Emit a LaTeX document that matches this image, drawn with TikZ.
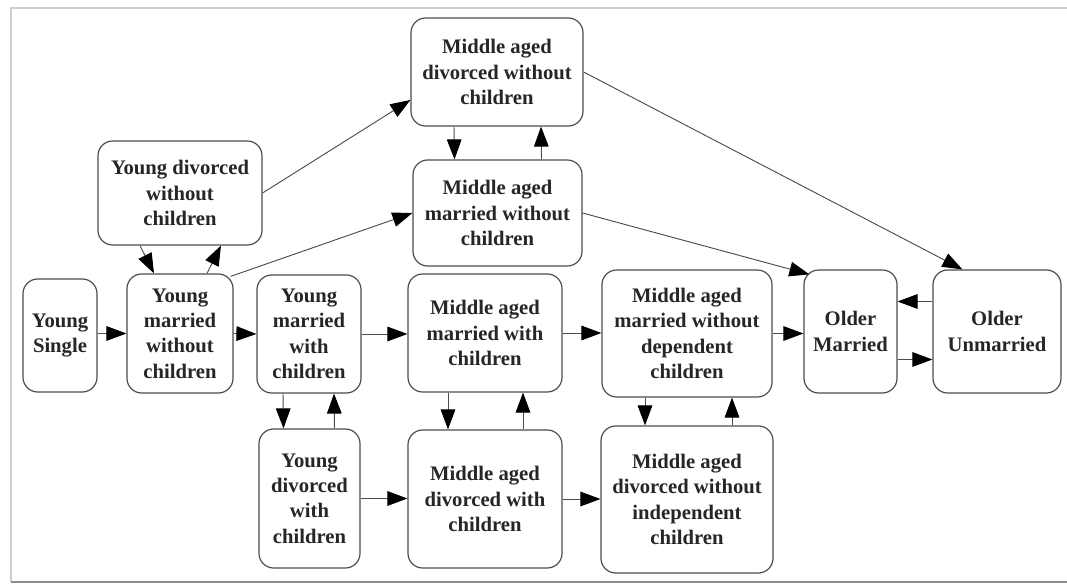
\documentclass[tikz,border=0pt]{standalone}
\usepackage{fontspec}
\setmainfont{Liberation Serif}
\usetikzlibrary{arrows.meta,calc}

\begin{document}
\begin{tikzpicture}[x=0.75pt,y=0.75pt,yscale=-1,
  state/.style={draw=black!70, line width=0.9, rounded corners=11pt, align=center, inner sep=1pt, text=black!85, font=\fontsize{15.5}{19}\selectfont\bfseries},
  arr/.style={draw=black!70, line width=0.7, -{Triangle[length=15pt,width=11pt,color=black]}}]
%uncomment if require: \path (0,584); %set diagram left start at 0, and has height of 584
\useasboundingbox (0,0) rectangle (1067,584);

%Frame
\draw [color={rgb, 255:red, 200; green, 208; blue, 216 }, line width=1.2]  (11,582) -- (11,8) -- (1067,8) ;
\draw [color=black!45, line width=2]  (11,582) -- (1067,582) ;

%Rounded Rect [young]
\node [state, minimum width=55.5pt, minimum height=84.75pt] (single) at (60,335.5) {Young\\Single};
\node [state, minimum width=79.5pt, minimum height=89.25pt] (ymwo) at (180,333.5) {Young\\married\\without\\children};
\node [state, minimum width=78pt, minimum height=88.5pt] (ymw) at (309,334) {Young\\married\\with\\children};
\node [state, minimum width=75.75pt, minimum height=104.25pt] (ydw) at (309.5,498.5) {Young\\divorced\\with\\children};
\node [state, minimum width=123pt, minimum height=78pt] (ydwo) at (180,193) {Young divorced\\without\\children};
%Rounded Rect [middle aged]
\node [state, minimum width=129pt, minimum height=81pt] (mdwo) at (497,72) {Middle aged\\divorced without\\children};
\node [state, minimum width=126.75pt, minimum height=79.5pt] (mmwo) at (497.5,213) {Middle aged\\married without\\children};
\node [state, minimum width=115.5pt, minimum height=88.5pt] (mmw) at (485,333) {Middle aged\\married with\\children};
\node [state, minimum width=127.5pt, minimum height=95.25pt] (mmwod) at (687,333.5) {Middle aged\\married without\\dependent\\children};
\node [state, minimum width=115.5pt, minimum height=103.5pt] (mdw) at (485,499) {Middle aged\\divorced with\\children};
\node [state, minimum width=129pt, minimum height=110.25pt] (mdwoi) at (687,499.5) {Middle aged\\divorced without\\independent\\children};
%Rounded Rect [older]
\node [state, minimum width=69.75pt, minimum height=92.25pt] (om) at (850.5,331.5) {Older\\Married};
\node [state, minimum width=96pt, minimum height=92.25pt] (ou) at (997,331.5) {Older\\Unmarried};

%Straight Lines [left to right]
\draw [arr]  (single.east |- ymwo.west) -- (ymwo.west) ;
\draw [arr]  (ymwo.east) -- (ymw.west) ;
\draw [arr]  (ymw.east) -- (ymw.east -| mmw.west) ;
\draw [arr]  (ydw.east) -- (ydw.east -| mdw.west) ;
\draw [arr]  (mmw.east) -- (mmw.east -| mmwod.west) ;
\draw [arr]  (mdw.east) -- (mdw.east -| mdwoi.west) ;
\draw [arr]  (mmwod.east) -- (mmwod.east -| om.west) ;
\draw [arr]  ($(ou.west)+(0,-30)$) -- ($(om.east)+(0,-30)$) ;
\draw [arr]  ($(om.east)+(0,28)$) -- ($(ou.west)+(0,28)$) ;

%Straight Lines [up and down]
\draw [arr]  ($(ydwo.south)+(-40,0)$) -- ($(ymwo.north)+(-26,0)$) ;
\draw [arr]  ($(ymwo.north)+(27,0)$) -- ($(ydwo.south)+(41,0)$) ;
\draw [arr]  ($(ymw.south)+(-26,0)$) -- ($(ydw.north)+(-26,0)$) ;
\draw [arr]  ($(ydw.north)+(25,0)$) -- ($(ymw.south)+(25,0)$) ;
\draw [arr]  ($(mdwo.south)+(-43,0)$) -- ($(mmwo.north)+(-43,0)$) ;
\draw [arr]  ($(mmwo.north)+(44,0)$) -- ($(mdwo.south)+(44,0)$) ;
\draw [arr]  ($(mmw.south)+(-37,0)$) -- ($(mdw.north)+(-37,0)$) ;
\draw [arr]  ($(mdw.north)+(38,0)$) -- ($(mmw.south)+(38,0)$) ;
\draw [arr]  ($(mmwod.south)+(-42,0)$) -- ($(mdwoi.north)+(-42,0)$) ;
\draw [arr]  ($(mdwoi.north)+(45,0)$) -- ($(mmwod.south)+(45,0)$) ;

%Straight Lines [slanted]
\draw [arr]  (ydwo.east) -- ($(mdwo.west)+(0,28)$) ;
\draw [arr]  ($(ymwo.north east)+(-3,3)$) -- (mmwo.west) ;
\draw [arr]  (mmwo.east) -- ($(om.north west)+(6,5)$) ;
\draw [arr]  (mdwo.east) -- ($(ou.north west)+(30,0)$) ;

\end{tikzpicture}
\end{document}
